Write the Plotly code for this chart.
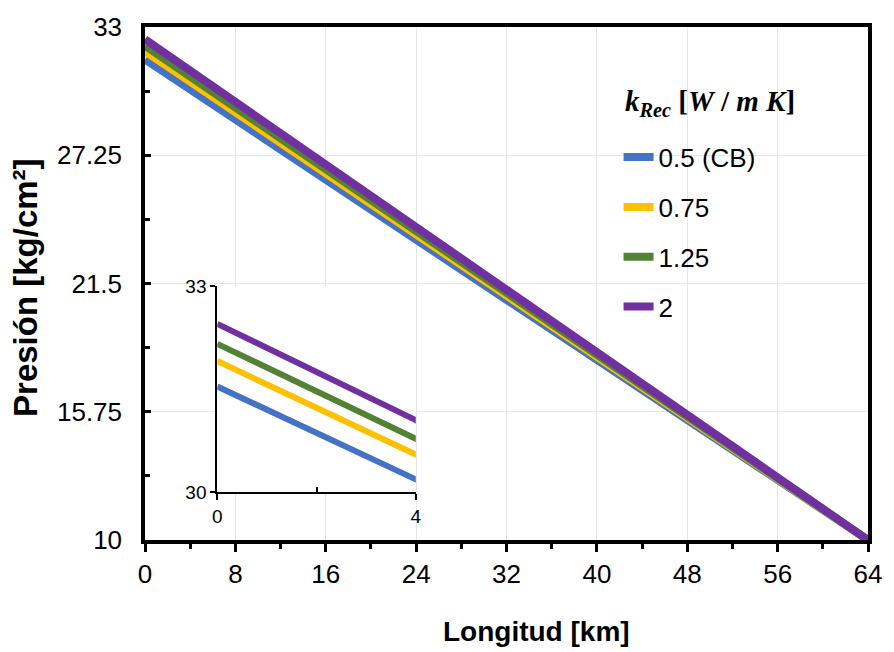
import plotly.graph_objects as go

# Data
longitud = [0, 4, 64]
series_names = ["0.5 (CB)", "0.75", "1.25", "2"]
p_cb = [31.54, 30.19, 10.0]
p_075 = [31.91, 30.55, 10.0]
p_125 = [32.16, 30.78, 10.0]
p_2 = [32.45, 31.05, 10.0]
colors = ["#4472C4", "#FFC000", "#548235", "#7030A0"]

x_ticks = [0, 8, 16, 24, 32, 40, 48, 56, 64]
y_ticks = [10, 15.75, 21.5, 27.25, 33]

series = [p_cb, p_075, p_125, p_2]

FONT = "Liberation Sans, Arial, sans-serif"

fig = go.Figure()
for name, vals, c in zip(series_names, series, colors):
    fig.add_trace(go.Scatter(x=longitud, y=vals, mode="lines", name=name,
                             legendgroup=name,
                             line=dict(color=c, width=8), xaxis="x", yaxis="y"))
for name, vals, c in zip(series_names, series, colors):
    fig.add_trace(go.Scatter(x=longitud, y=vals, mode="lines", name=name,
                             showlegend=False, legendgroup=name,
                             line=dict(color=c, width=6), xaxis="x2", yaxis="y2"))

fig.update_layout(
    width=894, height=652,
    margin=dict(l=145, r=20, t=23, b=112),
    paper_bgcolor="white", plot_bgcolor="white",
    font=dict(family=FONT, color="black"),
    xaxis=dict(range=[0, 64], tickvals=x_ticks, ticks="outside", ticklen=8, tickwidth=3,
               tickcolor="black", showline=True, linecolor="black", linewidth=3.5,
               mirror=True, showgrid=True, gridcolor="#E3E6EC", gridwidth=1,
               zeroline=False, tickfont=dict(size=26, family=FONT),
               minor=dict(tickvals=[4, 12, 20, 28, 36, 44, 52, 60], ticks="outside",
                          ticklen=5, tickwidth=3, tickcolor="black", showgrid=False)),
    yaxis=dict(range=[10, 33], tickvals=y_ticks, ticktext=["10", "15.75", "21.5", "27.25", "33"],
               ticks="inside", ticklen=6, tickwidth=3, tickcolor="black",
               showline=True, linecolor="black", linewidth=3.5, mirror=True,
               showgrid=True, gridcolor="#E3E6EC", gridwidth=1, zeroline=False,
               tickfont=dict(size=26, family=FONT), ticklabelstandoff=14,
               minor=dict(tickvals=[12.875, 18.625, 24.375, 30.125], ticks="inside",
                          ticklen=5, tickwidth=3, tickcolor="black", showgrid=False)),
    xaxis2=dict(domain=[0.100, 0.3745], anchor="y2", range=[0, 4], tickvals=[0, 4],
                ticks="outside", ticklen=6, tickwidth=2, tickcolor="black",
                showline=True, linecolor="black", linewidth=2, showgrid=False,
                zeroline=False, tickfont=dict(size=19, family=FONT),
                minor=dict(tickvals=[2], ticks="inside", ticklen=5, tickwidth=2,
                           tickcolor="black", showgrid=False)),
    yaxis2=dict(domain=[0.0928, 0.495], anchor="x2", range=[30, 33], tickvals=[30, 33],
                ticks="outside", ticklen=5, tickwidth=2, tickcolor="black",
                showline=True, linecolor="black", linewidth=2, showgrid=False,
                zeroline=False, tickfont=dict(size=19, family=FONT)),
    legend=dict(x=0.655, y=0.792, xanchor="left", yanchor="top",
                bgcolor="rgba(0,0,0,0)", font=dict(size=26, family=FONT),
                itemwidth=30, tracegroupgap=13),
    showlegend=True,
    annotations=[
        dict(text="<b><i>k</i><sub><i>Rec</i></sub> [<i>W</i> / <i>m K</i>]</b>",
             xref="paper", yref="paper", x=0.661, y=0.851, xanchor="left", yanchor="middle",
             showarrow=False,
             font=dict(size=29, family="Liberation Serif, DejaVu Serif, serif", color="black")),
        dict(text="<b>Longitud [km]</b>", xref="paper", yref="paper",
             x=(540 - 145) / 729, y=-(632 - 540) / 517, xanchor="center", yanchor="middle",
             showarrow=False, font=dict(size=28, family=FONT, color="black")),
        dict(text="<b>Presión [kg/cm²]</b>", xref="paper", yref="paper", textangle=-90,
             x=-(145 - 25) / 729, y=(540 - 285) / 517, xanchor="center", yanchor="middle",
             showarrow=False, font=dict(size=33, family=FONT, color="black")),
    ],
)

fig.write_html("out.html")
